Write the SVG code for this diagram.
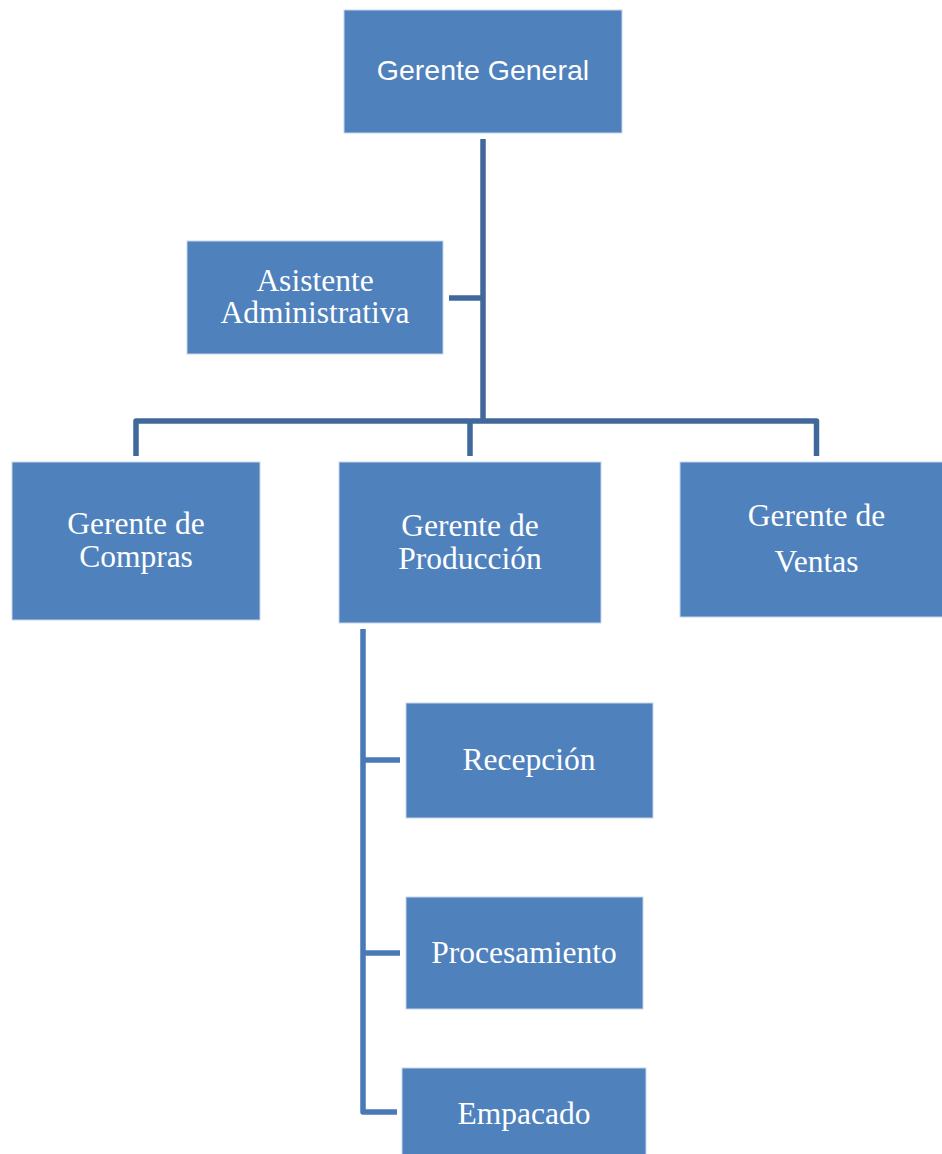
<svg xmlns="http://www.w3.org/2000/svg" width="942" height="1154" viewBox="0 0 942 1154">
<style>
.box{fill:#4F81BD;stroke:#C6D6EA;stroke-width:1}
.ts{font-family:"Liberation Sans",Arial,sans-serif;font-size:28.5px;fill:#FFFFFF;text-anchor:middle}
.tr{font-family:"Liberation Serif","Times New Roman",serif;font-size:31.5px;fill:#FFFFFF;text-anchor:middle}
.c1{fill:none;stroke:#41689A;stroke-width:5.5;stroke-linejoin:round}
.c2{fill:none;stroke:#4A7AB5;stroke-width:5.5;stroke-linejoin:round}
</style>
<rect width="942" height="1154" fill="#FFFFFF"/>
<g id="connectors">
<path class="c1" d="M483 139 V421"/>
<path class="c1" d="M449 298 H483"/>
<path class="c1" d="M136 456 V421 H816.5 V456"/>
<path class="c1" d="M470 421 V456"/>
<path class="c2" d="M363 629 V1112 H397"/>
<path class="c2" d="M363 760 H400"/>
<path class="c2" d="M363 953 H400"/>
</g>
<g id="gerente-general">
<rect class="box" x="344" y="10" width="278" height="123"/>
<text class="ts" x="483" y="80">Gerente General</text>
</g>
<g id="asistente-administrativa">
<rect class="box" x="187" y="241" width="256" height="113"/>
<text class="tr" x="315" y="291">Asistente</text>
<text class="tr" x="315" y="323">Administrativa</text>
</g>
<g id="gerente-compras">
<rect class="box" x="12" y="462" width="248" height="158"/>
<text class="tr" x="136" y="534">Gerente de</text>
<text class="tr" x="136" y="567">Compras</text>
</g>
<g id="gerente-produccion">
<rect class="box" x="339" y="462" width="262" height="161"/>
<text class="tr" x="470" y="535.5">Gerente de</text>
<text class="tr" x="470" y="568.5">Producción</text>
</g>
<g id="gerente-ventas">
<rect class="box" x="680" y="462" width="264" height="155"/>
<text class="tr" x="816.5" y="526">Gerente de</text>
<text class="tr" x="816.5" y="572">Ventas</text>
</g>
<g id="recepcion">
<rect class="box" x="406" y="703" width="247" height="115"/>
<text class="tr" x="529" y="770">Recepción</text>
</g>
<g id="procesamiento">
<rect class="box" x="406" y="897" width="237" height="112"/>
<text class="tr" x="524" y="963">Procesamiento</text>
</g>
<g id="empacado">
<rect class="box" x="402" y="1068" width="244" height="90"/>
<text class="tr" x="524" y="1124">Empacado</text>
</g>
</svg>
